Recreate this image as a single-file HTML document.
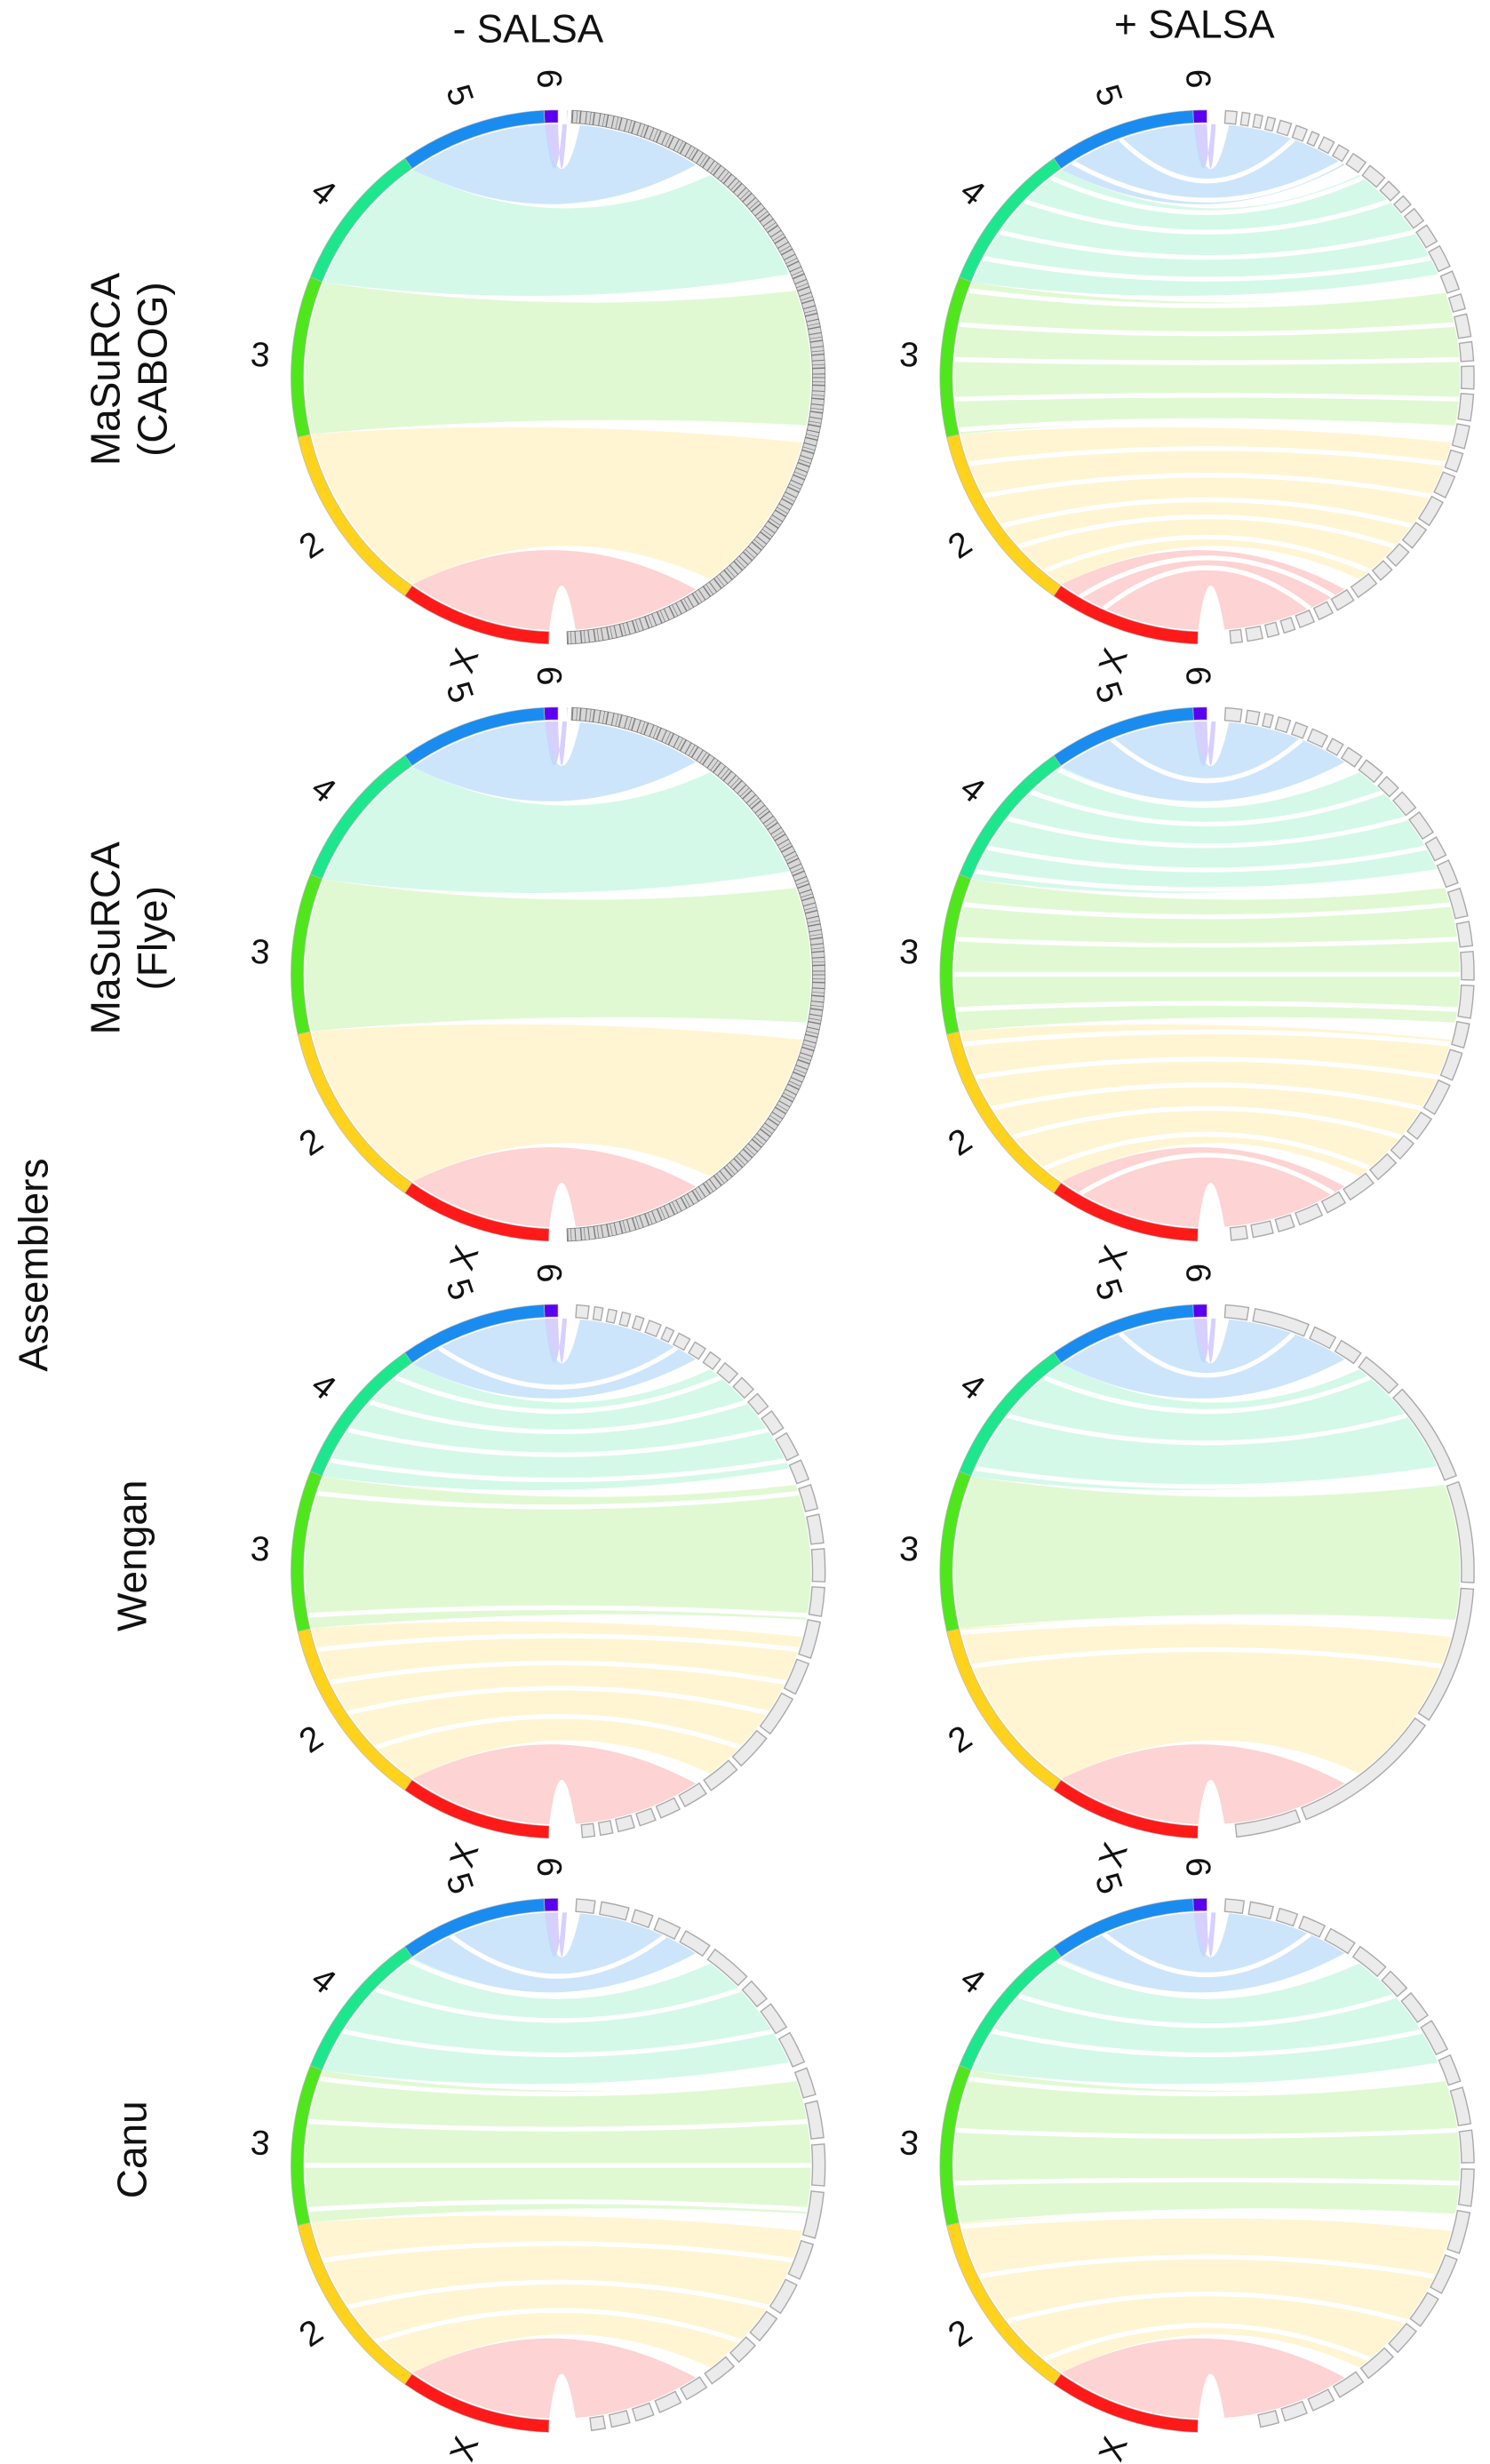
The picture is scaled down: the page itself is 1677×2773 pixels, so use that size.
<!DOCTYPE html>
<html><head><meta charset="utf-8"><style>
html,body{margin:0;padding:0;background:#fff}
svg{display:block}
text{font-family:"Liberation Sans",sans-serif;fill:#111}
</style></head><body>
<svg id="fig" width="1677" height="2773" viewBox="0 0 948 1568" xmlns="http://www.w3.org/2000/svg">
<text x="336" y="27" font-size="25" text-anchor="middle">- SALSA</text>
<text x="760" y="24" font-size="25" text-anchor="middle">+ SALSA</text>
<text transform="translate(30,805) rotate(-90)" font-size="26" text-anchor="middle">Assemblers</text>
<g transform="translate(82,235) rotate(-90)"><text x="0" y="-6" font-size="26" text-anchor="middle">MaSuRCA</text><text x="0" y="24" font-size="26" text-anchor="middle">(CABOG)</text></g>
<g transform="translate(82,597) rotate(-90)"><text x="0" y="-6" font-size="26" text-anchor="middle">MaSuRCA</text><text x="0" y="24" font-size="26" text-anchor="middle">(Flye)</text></g>
<text transform="translate(93,990) rotate(-90)" font-size="26" text-anchor="middle">Wengan</text>
<text transform="translate(93,1368) rotate(-90)" font-size="26" text-anchor="middle">Canu</text>
<g id="panels"></g>
</svg>
<script>
// chromosome data (arc span in degrees, from top going counter-clockwise)
const chromNames = ['6','5','4','3','2','X'];
const chromSpans = [3,32,33,35,42,33];
const chromColors = ['#5a00f0','#1a8cf0','#1ee68c','#4fe61e','#ffd21e','#ff1a1a'];
const bandColors = ['#c9c0ff','#bcdcfa','#c5f7e2','#d6f7c4','#fff1c4','#fcc4c4'];
// panel layout
const panelIds = ['cabog-minus','cabog-plus','flye-minus','flye-plus','wengan-minus','wengan-plus','canu-minus','canu-plus'];
const panelCol = [0,1,0,1,0,1,0,1];
const panelRow = [0,0,1,1,2,2,3,3];
const panelDense = [1,0,1,0,0,0,0,0];
// contig block spans (degrees) along right side, top to bottom
const contigSpans = [
 [],
 [3,2,2,2,3,3,2,3,3,4,5,4,3,4,5,6,5,4,6,5,6,7,6,5,6,7,6,5,4,6,5,4,4,3,3,4,3],
 [],
 [4,3,2,3,3,4,3,4,5,4,5,6,5,6,7,6,7,8,6,7,8,6,5,6,7,5,6,4,5,4],
 [3,2,2,2,2,3,2,3,3,3,4,4,4,5,6,5,6,7,8,7,9,8,10,9,8,6,5,4,4,3,3],
 [5,12,5,5,9,22,22,30,33,14],
 [4,6,4,5,6,9,5,6,7,6,8,9,10,8,7,6,5,6,5,5,4,4,3],
 [4,5,4,5,6,7,5,6,7,6,8,7,8,9,8,7,6,7,6,5,5,4]
];
// white separation chords (angles from top, degrees) per panel
const whiteLines = [
 [],
 [20,32,38,46,55,62,70,78,86,95,102,110,118,126,132,140,150,156],
 [],
 [22,36,44,52,60,66,74,82,90,98,106,114,122,130,140,150],
 [28,40,48,56,64,72,100,108,116,124,134],
 [20,40,52,66,104,112],
 [25,36,46,58,70,80,90,100,112,124,134],
 [24,36,48,58,70,82,94,104,116,128,140]
];
const colX = [355,768];
const rowY = [240,620,1000,1378];
const R = 170;
const NS = 'http://www.w3.org/2000/svg';
const root = document.getElementById('panels');

function pt(cx,cy,r,deg){const a=deg*Math.PI/180;return [cx+r*Math.sin(a),cy-r*Math.cos(a)];}
function mk(tag,attrs,parent){const e=document.createElementNS(NS,tag);for(const k in attrs)e.setAttribute(k,attrs[k]);parent.appendChild(e);return e;}
function arcPath(cx,cy,r1,r2,a1,a2){
  const p1=pt(cx,cy,r2,a1),p2=pt(cx,cy,r2,a2),p3=pt(cx,cy,r1,a2),p4=pt(cx,cy,r1,a1);
  const large=Math.abs(a2-a1)>180?1:0;const sw=a2>a1?1:0;
  return `M${p1[0]},${p1[1]}A${r2},${r2} 0 ${large} ${sw} ${p2[0]},${p2[1]}L${p3[0]},${p3[1]}A${r1},${r1} 0 ${large} ${1-sw} ${p4[0]},${p4[1]}Z`;
}
function ctrl(cx,cy,P,Q){const mx=(P[0]+Q[0])/2,my=(P[1]+Q[1])/2;return [mx+(cx-mx)*0.35,my+(cy-my)*0.35];}

panelIds.forEach((pid,pi)=>{
  const cx=colX[panelCol[pi]], cy=rowY[panelRow[pi]];
  const g=mk('g',{},root);
  
  
  const rin=R-9;
  let start=0;
  chromSpans.forEach((s,ci)=>{
    const a1=-start, a2=-(start+s); start+=s;
    const b1=-a1+2, b2=-a2-2;
    const L1=pt(cx,cy,rin,a1),L2=pt(cx,cy,rin,a2),Rr2=pt(cx,cy,rin,b2),Rr1=pt(cx,cy,rin,b1);
    const c2=ctrl(cx,cy,L2,Rr2), c1=ctrl(cx,cy,L1,Rr1);
    const d=`M${L1[0]},${L1[1]}A${rin},${rin} 0 0 0 ${L2[0]},${L2[1]}Q${c2[0]},${c2[1]} ${Rr2[0]},${Rr2[1]}A${rin},${rin} 0 0 0 ${Rr1[0]},${Rr1[1]}Q${c1[0]},${c1[1]} ${L1[0]},${L1[1]}Z`;
    const band=mk('path',{d:d,fill:bandColors[ci],'fill-opacity':0.75},g);
    
    
  });
  whiteLines[pi].forEach(a=>{
    const P=pt(cx,cy,rin,-a),Q=pt(cx,cy,rin,a);
    const c=ctrl(cx,cy,P,Q);
    const w=mk('path',{d:`M${P[0]},${P[1]}Q${c[0]},${c[1]} ${Q[0]},${Q[1]}`,stroke:'#fff','stroke-width':3,fill:'none'},g);
    
    
  });
  // contigs
  if(panelDense[pi]){
    const ring=mk('path',{d:arcPath(cx,cy,R-8,R,3,178),fill:'#d8d8d8',stroke:'#888','stroke-width':0.5},g);
    
    
    const cp=mk('clipPath',{id:'clip'+pi},g);
    mk('rect',{x:cx+6,y:cy-R-5,width:R+10,height:2*R+10},cp);
    const tg=mk('g',{'clip-path':'url(#clip'+pi+')'},g);
    
    
    mk('circle',{cx:cx,cy:cy,r:R-4,fill:'none',stroke:'#666','stroke-width':8,'stroke-dasharray':'0.6 2.2 0.4 1.6 0.8 3','stroke-opacity':0.8},tg);
  } else {
    let a=4; const sp=contigSpans[pi];
    const tot=sp.reduce((x,y)=>x+y,0)+1.4*sp.length;
    const k=Math.min(1,172/tot);
    sp.forEach((s,i)=>{
      const b=mk('path',{d:arcPath(cx,cy,R-8,R,a,a+s*k),fill:'#ebebeb',stroke:'#aaa','stroke-width':0.8},g);
      
      
      a+=s*k+1.4*k;
    });
  }
  // chromosome arcs + labels
  start=0;
  chromSpans.forEach((s,ci)=>{
    const a1=-(start+s), a2=-start; start+=s;
    const arc=mk('path',{d:arcPath(cx,cy,R-8,R,a1,a2),fill:chromColors[ci],stroke:'#bbb','stroke-width':0.4},g);
    
    
    const mid=(a1+a2)/2, lp=pt(cx,cy,R+20,mid);
    const t=mk('text',{x:lp[0],y:lp[1]+8,'font-size':22,'text-anchor':'middle',transform:`rotate(${mid+90},${lp[0]},${lp[1]})`},g);
    t.textContent=chromNames[ci];
    
    
  });
});
</script>
</body></html>
